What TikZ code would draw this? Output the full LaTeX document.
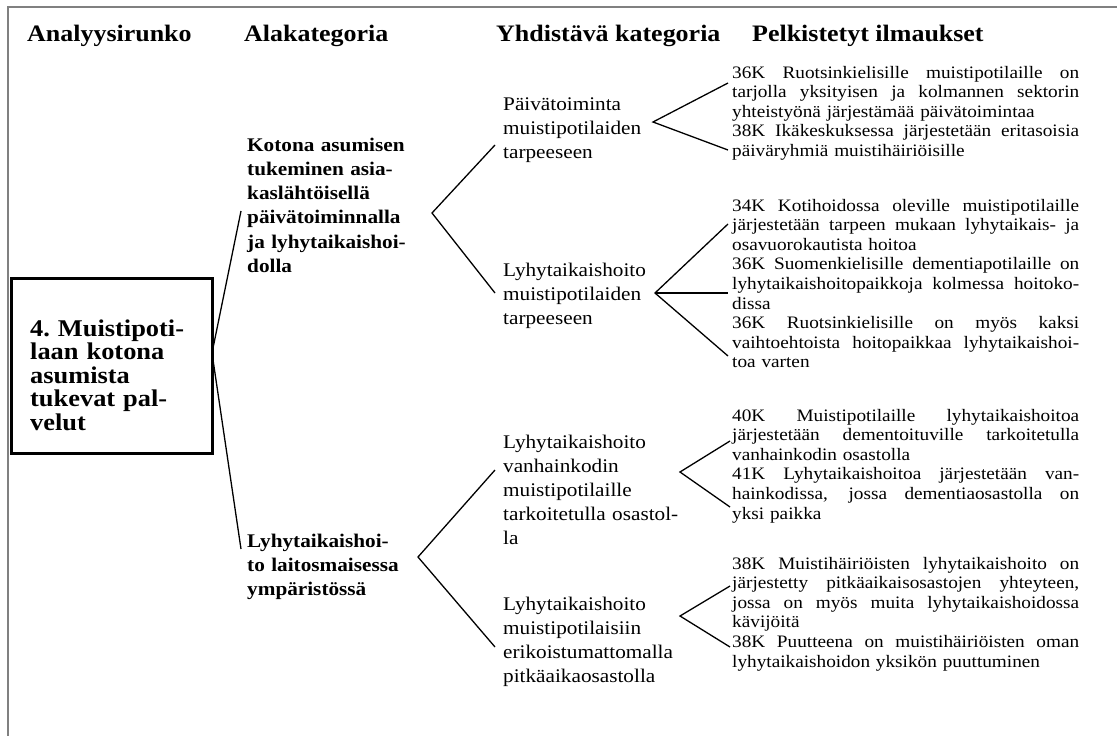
\documentclass[tikz,border=0pt]{standalone}
\usepackage{fontspec}
\setmainfont[FakeStretch=1.1]{Liberation Serif}
\newlength{\jwidth}
\setlength{\jwidth}{347pt}
% one justified line of the right-hand column (interword glue allowed to stretch)
\newcommand{\jline}[1]{{\spaceskip=0pt\xspaceskip=0pt\makebox[\jwidth][s]{#1}}}
\begin{document}
\begin{tikzpicture}[x=1pt,y=-1pt,
  hdr/.style={anchor=base west,inner sep=0pt,font=\fontsize{23.6}{28}\selectfont\bfseries},
  mainbox/.style={draw,line width=2.8pt,anchor=north west,inner sep=0pt,minimum width=201pt,minimum height=175pt},
  maintext/.style={anchor=base west,inner sep=0pt,text width=180pt,align=left,font=\fontsize{24}{23.6}\selectfont\bfseries},
  sub/.style={anchor=base west,inner sep=0pt,text width=175pt,align=left,font=\fontsize{19.3}{24.3}\selectfont\bfseries},
  comb/.style={anchor=base west,inner sep=0pt,text width=200pt,align=left,font=\fontsize{19.3}{24}\selectfont},
  red/.style={anchor=base west,inner sep=0pt,text width=370pt,align=left,font=\fontsize{17.5}{19.6}\selectfont},
  link/.style={line width=1.3pt,black},
  frame/.style={line width=1.6pt,gray}
]
\useasboundingbox (0,0) rectangle (1117,736);

% outer frame (left and top edges)
\draw[frame] (8,740) -- (8,7) -- (1120,7);

% column headings
\node[hdr] (h1) at (27,41) {Analyysirunko};
\node[hdr] (h2) at (244,41) {Alakategoria};
\node[hdr] (h3) at (496,41) {Yhdistävä kategoria};
\node[hdr] (h4) at (752,41) {Pelkistetyt ilmaukset};

% main category
\node[mainbox] (box) at (10,277) {};
\node[maintext] (boxtext) at (30,336) {4.\ Muistipoti-\\laan kotona\\asumista\\tukevat pal-\\velut};

% subcategories
\node[sub] (ala1) at (247,151) {Kotona asumisen\\tukeminen asia-\\kaslähtöisellä\\päivätoiminnalla\\ja lyhytaikaishoi-\\dolla};
\node[sub] (ala2) at (247,547) {Lyhytaikaishoi-\\to laitosmaisessa\\ympäristössä};

% combining categories
\node[comb] (yh1) at (503,110) {Päivätoiminta\\muistipotilaiden\\tarpeeseen};
\node[comb] (yh2) at (503,276) {Lyhytaikaishoito\\muistipotilaiden\\tarpeeseen};
\node[comb] (yh3) at (503,448) {Lyhytaikaishoito\\vanhainkodin\\muistipotilaille\\tarkoitetulla osastol-\\la};
\node[comb] (yh4) at (503,610) {Lyhytaikaishoito\\muistipotilaisiin\\erikoistumattomalla\\pitkäaikaosastolla};

% reduced expressions
\node[red] (pk1) at (732,78) {\jline{36K Ruotsinkielisille muistipotilaille on}\\
\jline{tarjolla yksityisen ja kolmannen sektorin}\\
yhteistyönä järjestämää päivätoimintaa\\
\jline{38K Ikäkeskuksessa järjestetään eritasoisia}\\
päiväryhmiä muistihäiriöisille};
\node[red] (pk2) at (732,211) {\jline{34K Kotihoidossa oleville muistipotilaille}\\
\jline{järjestetään tarpeen mukaan lyhytaikais- ja}\\
osavuorokautista hoitoa\\
\jline{36K Suomenkielisille dementiapotilaille on}\\
\jline{lyhytaikaishoitopaikkoja kolmessa hoitoko-}\\
dissa\\
\jline{36K Ruotsinkielisille on myös kaksi}\\
\jline{vaihtoehtoista hoitopaikkaa lyhytaikaishoi-}\\
toa varten};
\node[red] (pk3) at (732,421) {\jline{40K Muistipotilaille lyhytaikaishoitoa}\\
\jline{järjestetään dementoituville tarkoitetulla}\\
vanhainkodin osastolla\\
\jline{41K Lyhytaikaishoitoa järjestetään van-}\\
\jline{hainkodissa, jossa dementiaosastolla on}\\
yksi paikka};
\node[red] (pk4) at (732,569) {\jline{38K Muistihäiriöisten lyhytaikaishoito on}\\
\jline{järjestetty pitkäaikaisosastojen yhteyteen,}\\
\jline{jossa on myös muita lyhytaikaishoidossa}\\
kävijöitä\\
\jline{38K Puutteena on muistihäiriöisten oman}\\
lyhytaikaishoidon yksikön puuttuminen};

% branch points and line ends
\coordinate (c0) at (212,353);
\coordinate (a1) at (241,211);
\coordinate (a2) at (241,549);
\coordinate (v1) at (432,213);
\coordinate (v1a) at (495,145);
\coordinate (v1b) at (495,293);
\coordinate (v2) at (418,557);
\coordinate (v2a) at (495,470);
\coordinate (v2b) at (495,647);
\coordinate (w1) at (653,122);
\coordinate (w1a) at (728,83);
\coordinate (w1b) at (728,150);
\coordinate (w2) at (655,293);
\coordinate (w2a) at (728,224);
\coordinate (w2b) at (728,293);
\coordinate (w2c) at (728,356);
\coordinate (w3) at (680,472);
\coordinate (w3a) at (730,441);
\coordinate (w3b) at (730,507);
\coordinate (w4) at (680,616);
\coordinate (w4a) at (730,586);
\coordinate (w4b) at (730,647);

% connectors
\draw[link] (a1) -- (c0) -- (a2);
\draw[link] (v1a) -- (v1) -- (v1b);
\draw[link] (v2a) -- (v2) -- (v2b);
\draw[link] (w1a) -- (w1) -- (w1b);
\draw[link] (w2a) -- (w2) -- (w2c);
\draw[link] (w2) -- (w2b);
\draw[link] (w3a) -- (w3) -- (w3b);
\draw[link] (w4a) -- (w4) -- (w4b);
\end{tikzpicture}
\end{document}
